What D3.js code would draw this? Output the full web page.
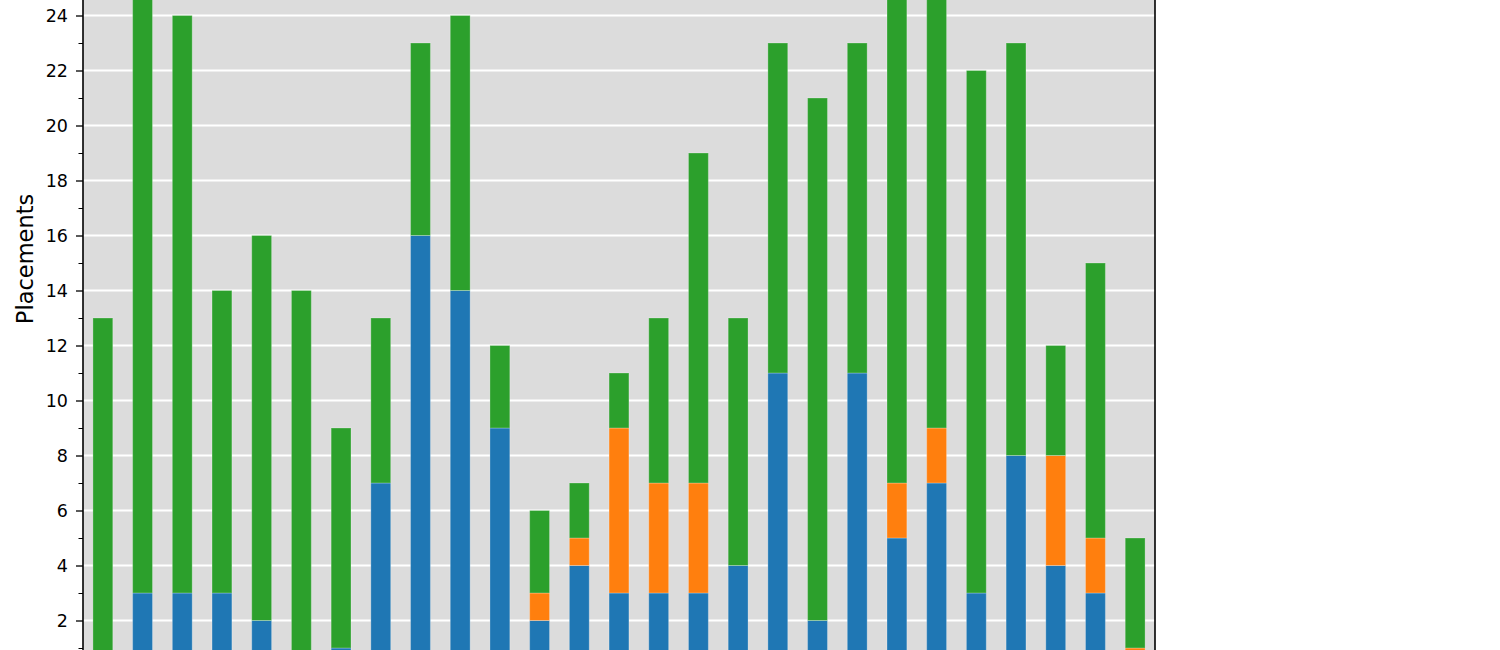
<!DOCTYPE html>
<html>
<head>
<meta charset="utf-8">
<script src="https://cdn.jsdelivr.net/npm/d3@7"></script>
<style>
  html, body { margin: 0; padding: 0; background: #fff; overflow: hidden; }
  svg { display: block; font-family: "DejaVu Sans", sans-serif; }
</style>
</head>
<body>
<div id="chart"></div>
<script>
// bar index (x labels fall below the visible crop)
const bars = d3.range(27);

// stacked series, bottom to top
const blueValues   = [0, 3, 3, 3, 2, 0, 1, 7, 16, 14, 9, 2, 4, 3, 3, 3, 4, 11, 2, 11, 5, 7, 3, 8, 4, 3, 0];
const orangeValues = [0, 0, 0, 0, 0, 0, 0, 0, 0, 0, 0, 1, 1, 6, 4, 4, 0, 0, 0, 0, 2, 2, 0, 0, 4, 2, 1];
const greenValues  = [13, 23, 21, 11, 14, 14, 8, 6, 7, 10, 3, 3, 2, 2, 6, 12, 9, 12, 19, 12, 19, 17, 19, 15, 4, 10, 4];

const seriesKeys = ["blue", "orange", "green"];
const seriesColors = { blue: "#1f77b4", orange: "#ff7f0e", green: "#2ca02c" };

const majorTicks = [2, 4, 6, 8, 10, 12, 14, 16, 18, 20, 22, 24];
const minorTicks = [1, 3, 5, 7, 9, 11, 13, 15, 17, 19, 21, 23, 25];

const W = 1500, H = 650;
const plot = { left: 83, right: 1155 };

const rows = bars.map(i => ({
  idx: i,
  blue: blueValues[i],
  orange: orangeValues[i],
  green: greenValues[i]
}));

const svg = d3.select("#chart")
  .append("svg")
  .attr("width", W)
  .attr("height", H);

const x = d3.scaleBand()
  .domain(bars)
  .range([plot.left, plot.right])
  .paddingInner(0.5)
  .paddingOuter(0.25);

// axes extend past the photographed window; 27.5 px per placement
const y = d3.scaleLinear()
  .domain([0, 30])
  .range([675.5, 675.5 - 30 * 27.5]);

svg.append("clipPath")
  .attr("id", "plot-clip")
  .append("rect")
  .attr("x", plot.left)
  .attr("y", -200)
  .attr("width", plot.right - plot.left)
  .attr("height", 1100);

// background
svg.append("rect")
  .attr("x", plot.left)
  .attr("y", -200)
  .attr("width", plot.right - plot.left)
  .attr("height", 1100)
  .attr("fill", "#dcdcdc");

// grid
svg.append("g")
  .attr("clip-path", "url(#plot-clip)")
  .selectAll("line")
  .data(majorTicks)
  .enter()
  .append("line")
  .attr("x1", plot.left)
  .attr("x2", plot.right)
  .attr("y1", d => y(d))
  .attr("y2", d => y(d))
  .attr("stroke", "#ffffff")
  .attr("stroke-width", 1.8);

// stacked bars
const stacked = d3.stack().keys(seriesKeys)(rows);

svg.append("g")
  .attr("clip-path", "url(#plot-clip)")
  .selectAll("g")
  .data(stacked)
  .enter()
  .append("g")
  .attr("fill", s => seriesColors[s.key])
  .selectAll("rect")
  .data(s => s.filter(d => d[1] > d[0]))
  .enter()
  .append("rect")
  .attr("x", d => x(d.data.idx))
  .attr("y", d => y(d[1]))
  .attr("width", x.bandwidth())
  .attr("height", d => y(d[0]) - y(d[1]))
  .attr("stroke", "rgba(255,255,255,0.25)")
  .attr("stroke-width", 1);

// y axis
const yAxis = svg.append("g")
  .attr("transform", `translate(${plot.left},0)`)
  .call(d3.axisLeft(y).tickValues(majorTicks).tickSize(7).tickPadding(8).tickFormat(d3.format("d")));

yAxis.select(".domain").remove();
yAxis.selectAll(".tick line").attr("stroke", "#000").attr("stroke-width", 1.3);
yAxis.selectAll(".tick text")
  .attr("fill", "#000")
  .style("font-size", "17.5px")
  .style("font-family", "DejaVu Sans, sans-serif");

svg.append("g")
  .attr("transform", `translate(${plot.left},0)`)
  .call(d3.axisLeft(y).tickValues(minorTicks).tickSize(4.5).tickFormat(""))
  .call(g => g.select(".domain").remove())
  .selectAll(".tick line")
  .attr("stroke", "#000")
  .attr("stroke-width", 1);

// spines
[plot.left, plot.right].forEach(px => {
  svg.append("line")
    .attr("x1", px)
    .attr("x2", px)
    .attr("y1", -10)
    .attr("y2", H + 10)
    .attr("stroke", "#000")
    .attr("stroke-width", 1.6);
});

// y label
svg.append("text")
  .attr("transform", `translate(33, 259) rotate(-90)`)
  .attr("text-anchor", "middle")
  .style("font-size", "22.5px")
  .style("fill", "#000")
  .text("Placements");
</script>
</body>
</html>
